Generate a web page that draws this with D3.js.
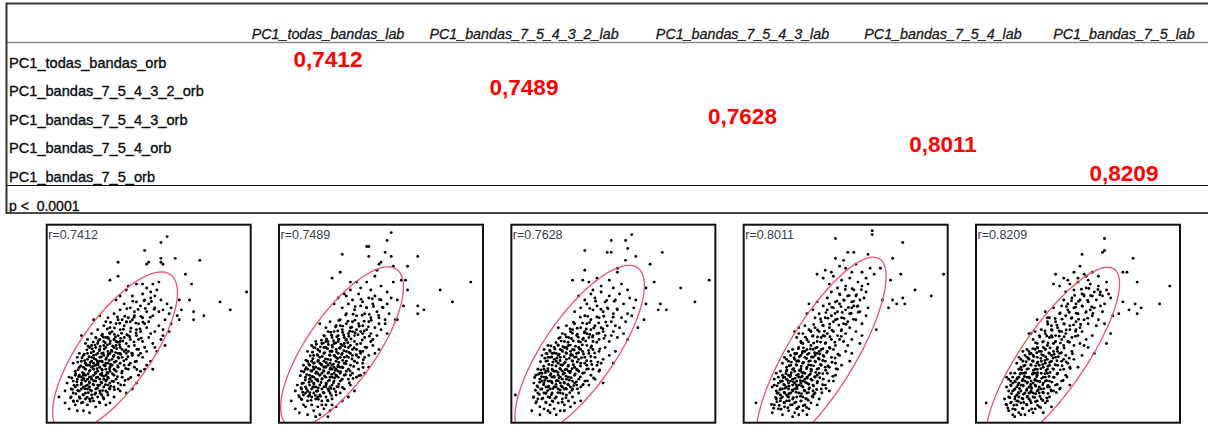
<!DOCTYPE html>
<html>
<head>
<meta charset="utf-8">
<script src="https://cdn.jsdelivr.net/npm/d3@7"></script>
<style>
  html, body { margin: 0; padding: 0; background: #fff; }
  svg { display: block; }
</style>
</head>
<body>
<svg id="chart" width="1208" height="427"></svg>
<script>
// ---- Correlation table ----
const columnLabels = ["PC1_todas_bandas_lab", "PC1_bandas_7_5_4_3_2_lab", "PC1_bandas_7_5_4_3_lab", "PC1_bandas_7_5_4_lab", "PC1_bandas_7_5_lab"];
const rowLabels = ["PC1_todas_bandas_orb", "PC1_bandas_7_5_4_3_2_orb", "PC1_bandas_7_5_4_3_orb", "PC1_bandas_7_5_4_orb", "PC1_bandas_7_5_orb"];
const correlations = [0.7412, 0.7489, 0.7628, 0.8011, 0.8209];
const pValueLabel = "p <  0.0001";

// ---- Scatter panels (both axes on a 0-100 scale) ----
const panelMeanX = [33.5, 30.9, 33.5, 38.0, 37.7];
const panelMeanY = [35.5, 38.2, 36.3, 34.4, 32.6];
const panelSdX = [12.5, 12.3, 12.95, 13.0, 13.35];
const panelSdY = [16.6, 16.55, 17.65, 20.1, 18.75];

const panel1Points = [
59,94, 56,91, 48,87, 56,83, 63,83, 75,82, 50,81, 49,80, 35,81, 56,81, 57,80, 68,75, 35,74, 31,72, 71,70, 47,70, 52,70, 55,71, 40,69, 44,70, 49,68, 54,67, 51,66, 98,66, 85,61, 70,62, 65,62, 90,57, 66,57, 72,56, 77,54, 72,52, 64,54, 65,52, 53,64, 51,63, 39,67, 42,64, 47,65, 36,64, 44,61, 48,62, 56,62, 59,60, 34,62, 38,60, 41,58, 46,59, 50,60, 53,58, 57,57, 61,58, 36,57, 43,56, 49,56, 55,56, 60,55,
26,54, 30,53, 33,55, 37,52, 40,53, 41,51, 42,52, 39,51, 43,54, 45,50, 47,53, 50,51, 52,54, 55,49, 58,52, 61,50, 28,49, 31,48, 34,50, 36,47, 38,49, 44,47, 46,46, 49,48, 53,46, 57,47, 60,46, 32,46, 25,47, 41,46, 35,52, 48,50, 23,52, 29,51, 51,45,
17,44, 20,42, 22,45, 24,43, 25,40, 27,44, 28,41, 29,38, 30,43, 31,40, 32,36, 33,42, 34,39, 35,44, 36,41, 37,37, 38,43, 39,40, 40,36, 41,42, 43,39, 44,44, 45,37, 47,41, 48,38, 50,43, 52,40, 54,36, 56,42, 58,39, 21,38, 23,36, 26,37, 19,40, 24,38, 27,35, 30,36, 33,38, 35,35, 38,36, 42,35, 46,35, 49,36, 53,38, 57,44, 26,42, 31,45, 36,38, 28,39, 34,41, 40,44, 45,42, 29,43, 22,39,
13,30, 15,33, 16,28, 17,31, 18,34, 19,27, 19,30, 20,32, 21,26, 21,29, 22,33, 22,31, 23,27, 23,34, 24,29, 24,32, 25,26, 25,30, 26,33, 26,28, 27,31, 27,25, 28,34, 28,29, 29,32, 29,27, 30,30, 30,34, 31,28, 31,26, 32,32, 32,29, 33,34, 33,27, 34,31, 35,28, 35,33, 36,30, 37,26, 37,33, 38,29, 39,32, 40,27, 41,30, 42,34, 43,28, 44,31, 46,26, 47,33, 49,29, 51,31, 52,27, 14,26, 18,25, 20,35, 16,35, 25,35, 31,35, 27,27, 23,30, 20,29, 18,28, 34,26, 36,35, 39,35, 45,34, 48,27, 30,25, 26,31, 22,28, 24,25, 29,30,
10,20, 11,23, 12,17, 13,21, 14,24, 15,19, 15,22, 16,16, 16,24, 17,20, 17,23, 18,18, 18,22, 19,15, 19,21, 19,24, 20,19, 20,17, 21,23, 21,20, 22,16, 22,22, 23,19, 23,24, 24,21, 24,17, 25,23, 25,19, 26,16, 26,22, 27,20, 27,24, 28,18, 28,22, 29,16, 29,21, 30,23, 30,19, 31,17, 32,21, 33,24, 33,18, 34,22, 35,20, 36,16, 37,23, 38,19, 40,22, 42,17, 44,20, 45,24, 14,18, 13,15, 17,17, 20,22, 23,21, 26,19, 29,24, 31,20, 21,18, 24,15, 18,24, 35,17, 39,15,
6,13, 9,16, 11,7, 18,6, 21,5, 15,11, 12,13, 14,9, 16,13, 17,10, 19,12, 20,9, 22,14, 23,11, 24,8, 25,13, 26,10, 27,14, 28,12, 30,14, 31,10, 13,11, 18,14, 21,12, 9,10, 15,6, 29,9, 33,13
];
const panel1Core = [
14.3,14.6, 17.8,14.2, 20.4,15.1, 23.6,14.4, 26.2,14.9, 29.7,15.3,
12.6,16.8, 15.2,16.3, 18.7,17.1, 21.3,16.6, 24.8,17.4, 27.4,16.2, 30.6,17.2, 33.2,16.7,
13.4,18.9, 16.9,19.3, 19.2,18.6, 22.7,19.4, 25.3,18.7, 28.8,19.2, 31.4,18.4, 36.3,19.1,
14.8,20.7, 17.3,21.4, 20.9,20.6, 23.2,21.2, 26.7,20.4, 29.3,21.6, 32.8,20.8, 38.4,21.3,
12.3,22.6, 15.7,23.3, 18.2,22.4, 21.8,23.1, 24.3,22.7, 27.9,23.4, 30.2,22.5, 34.7,23.2, 41.2,22.8,
14.2,24.7, 17.6,25.3, 20.3,24.6, 23.8,25.2, 26.3,24.4, 29.6,25.4, 32.2,24.8, 36.8,25.1,
15.4,26.8, 18.8,27.2, 21.2,26.4, 24.7,27.3, 27.2,26.6, 30.8,27.2, 33.3,26.7, 38.7,27.4, 44.2,26.9,
16.7,28.7, 19.3,29.2, 22.8,28.4, 25.2,29.3, 28.7,28.6, 31.3,29.4, 34.8,28.8, 40.3,29.2,
15.2,30.6, 18.6,31.3, 21.3,30.4, 24.8,31.2, 27.3,30.7, 30.7,31.4, 33.2,30.5, 37.8,31.2, 43.3,30.8,
17.3,32.8, 20.7,33.3, 23.2,32.4, 26.8,33.2, 29.3,32.7, 32.7,33.4, 35.3,32.6, 39.8,33.3,
18.4,34.6, 21.8,35.3, 24.3,34.4, 27.7,35.2, 30.2,34.7, 33.8,35.4, 36.3,34.5, 41.7,35.1,
19.7,36.8, 22.3,37.3, 25.8,36.4, 28.2,37.2, 31.7,36.6, 34.3,37.4, 38.8,36.7, 44.3,37.1,
20.3,38.6, 23.7,39.2, 26.2,38.5, 29.8,39.3, 32.3,38.7, 35.7,39.4, 40.2,38.6,
22.8,40.7, 25.3,41.3, 28.7,40.4, 31.2,41.2, 34.8,40.6, 37.3,41.3, 42.8,40.8,
24.2,42.8, 27.8,43.2, 30.3,42.4, 33.7,43.3, 36.2,42.6, 40.7,43.4, 46.3,42.7,
27.3,44.7, 30.8,45.3, 33.2,44.6, 36.7,45.2, 39.3,44.4, 43.8,45.3,
29.7,47.3, 33.2,47.8, 37.6,47.2, 41.3,47.7, 45.8,47.4,
31.3,50.6, 35.8,50.2, 39.2,50.8, 43.7,50.3, 47.2,50.7,
34.7,53.4, 38.3,53.8, 42.8,53.3, 46.2,53.7, 50.8,53.2,
39.3,57.6, 44.8,57.2, 48.3,57.7, 52.7,57.3,
42.2,61.3, 47.7,61.6, 51.3,61.2,
13.2,10.7, 17.7,10.3, 21.3,10.8, 25.8,10.4,
11.7,12.6, 16.3,12.3, 19.8,12.8, 22.3,12.4, 27.7,12.7
];

const panel2Points = [
55,96, 53,92, 43,89, 44,89, 31,85, 44,84, 52,86, 55,84, 68,84, 50,81, 49,80, 56,79, 63,79, 30,76, 26,73, 60,72, 62,72, 94,71, 79,67, 63,67, 85,61, 58,62, 61,59, 68,59, 71,57, 68,55, 58,52, 57,52, 48,77, 47,74, 56,71, 35,71, 38,71, 43,71, 40,68, 45,67, 50,69, 53,66, 35,67, 32,65,
29,63, 33,64, 36,62, 39,65, 41,61, 44,63, 47,64, 50,62, 53,60, 55,63, 31,58, 34,60, 37,57, 40,59, 43,58, 46,60, 48,56, 51,58, 54,55, 27,60, 38,54, 42,55, 45,53, 49,53, 52,52, 33,55,
20,50, 23,48, 25,51, 27,46, 28,49, 30,52, 31,47, 33,50, 34,45, 35,48, 36,51, 37,44, 38,47, 39,50, 40,46, 41,49, 42,43, 43,47, 44,51, 45,45, 47,48, 48,44, 50,47, 52,50, 53,45, 22,44, 24,46, 26,43, 29,44, 32,43, 46,42, 30,49, 36,46, 41,45, 49,50,
14,36, 16,39, 17,34, 18,41, 19,37, 20,33, 21,40, 22,35, 23,38, 24,32, 24,41, 25,36, 26,39, 27,34, 28,37, 29,41, 30,33, 30,38, 31,35, 32,40, 33,36, 34,33, 35,39, 36,34, 37,41, 38,37, 39,33, 40,40, 41,36, 43,38, 44,34, 46,39, 47,35, 49,37, 20,36, 22,38, 25,34, 27,40, 29,35, 32,33, 34,38, 36,37, 19,34, 26,36, 31,39, 38,34, 42,33, 45,41, 23,41, 28,33, 35,35, 17,38, 33,42, 40,35,
11,26, 12,29, 13,23, 14,31, 14,27, 15,24, 15,29, 16,21, 16,26, 17,30, 17,23, 18,28, 18,25, 19,21, 19,31, 20,27, 20,24, 21,29, 21,22, 22,26, 22,31, 23,23, 23,28, 24,25, 24,21, 25,30, 25,27, 26,23, 26,29, 27,25, 27,21, 28,31, 28,27, 29,23, 29,29, 30,25, 30,21, 31,28, 32,24, 32,30, 33,26, 34,22, 35,29, 36,25, 37,31, 38,23, 39,27, 41,30, 42,25, 44,28, 13,27, 16,31, 19,25, 21,25, 24,29, 26,27, 28,24, 31,22, 33,31, 35,24, 18,22, 20,30, 23,20, 25,23, 27,28, 29,26, 15,22, 17,27, 22,28, 30,28, 34,27, 40,24,
8,16, 9,19, 10,13, 11,17, 12,20, 12,14, 13,18, 14,11, 14,16, 15,19, 16,13, 16,17, 17,20, 17,15, 18,12, 18,18, 19,16, 20,14, 20,19, 21,11, 21,17, 22,15, 23,19, 23,13, 24,17, 25,15, 26,19, 26,12, 27,17, 28,14, 29,18, 30,15, 31,11, 32,17, 34,13, 35,19, 37,16, 15,14, 19,13, 22,18, 24,11, 13,15, 17,18, 25,18, 11,12,
6,11, 8,7, 10,5, 13,8, 14,4, 16,9, 17,6, 19,8, 20,4, 22,7, 23,9, 25,6, 26,9, 28,8, 12,9, 18,3, 21,9, 24,3
];
const panel2Core = [
11.6,15.4, 15.1,15.2, 18.3,15.9, 21.7,15.3, 24.4,16.1, 27.8,15.6,
10.8,17.7, 13.4,17.2, 16.6,18.1, 19.2,17.5, 22.9,18.3, 25.5,17.3, 28.4,18.2, 31.1,17.8,
11.3,19.8, 14.7,20.4, 17.1,19.6, 20.6,20.3, 23.2,19.7, 26.7,20.2, 29.3,19.5, 34.4,20.1,
12.9,21.6, 15.3,22.4, 18.8,21.7, 21.2,22.2, 24.7,21.5, 27.2,22.6, 30.8,21.8, 36.3,22.3,
10.4,23.7, 13.6,24.3, 16.2,23.4, 19.7,24.1, 22.3,23.6, 25.8,24.4, 28.2,23.5, 32.6,24.2, 39.2,23.8,
12.2,25.7, 15.6,26.3, 18.3,25.6, 21.8,26.2, 24.3,25.4, 27.6,26.4, 30.2,25.8, 34.8,26.1,
13.3,27.8, 16.8,28.2, 19.2,27.4, 22.6,28.3, 25.2,27.6, 28.8,28.2, 31.3,27.7, 36.6,28.4, 41.2,27.9,
14.6,29.7, 17.3,30.2, 20.8,29.4, 23.2,30.3, 26.7,29.6, 29.3,30.4, 32.8,29.8, 38.3,30.2,
13.2,31.6, 16.6,32.3, 19.3,31.4, 22.8,32.2, 25.3,31.7, 28.7,32.4, 31.2,31.5, 35.8,32.2, 41.3,31.8,
15.3,33.8, 18.7,34.3, 21.2,33.4, 24.8,34.2, 27.3,33.7, 30.7,34.4, 33.3,33.6, 37.8,34.3,
16.4,35.6, 19.8,36.3, 22.3,35.4, 25.7,36.2, 28.2,35.7, 31.8,36.4, 34.3,35.5, 39.7,36.1,
17.7,37.8, 20.3,38.3, 23.8,37.4, 26.2,38.2, 29.7,37.6, 32.3,38.4, 36.8,37.7, 42.3,38.1,
18.3,39.6, 21.7,40.2, 24.2,39.5, 27.8,40.3, 30.3,39.7, 33.7,40.4, 38.2,39.6,
20.8,41.7, 23.3,42.3, 26.7,41.4, 29.2,42.2, 32.8,41.6, 35.3,42.3, 40.8,41.8,
22.2,43.8, 25.8,44.2, 28.3,43.4, 31.7,44.3, 34.2,43.6, 38.7,44.4, 44.3,43.7,
25.3,45.7, 28.8,46.3, 31.2,45.6, 34.7,46.2, 37.3,45.4, 41.8,46.3,
27.7,48.3, 31.2,48.8, 35.6,48.2, 39.3,48.7, 43.8,48.4,
29.3,51.6, 33.8,51.2, 37.2,51.8, 41.7,51.3, 45.2,51.7,
32.7,54.4, 36.3,54.8, 40.8,54.3, 44.2,54.7, 48.8,54.2,
37.3,58.6, 42.8,58.2, 46.3,58.7, 50.7,58.3,
40.2,62.3, 45.7,62.6, 49.3,62.2,
11.2,11.7, 15.7,11.3, 19.3,11.8, 23.8,11.4,
9.7,13.6, 14.3,13.3, 17.8,13.8, 20.3,13.4, 25.7,13.7
];

const panel3Points = [
59,95, 56,92, 49,92, 47,86, 49,86, 36,87, 57,88, 61,84, 74,86, 56,82, 68,80, 36,77, 30,72, 35,72, 52,78, 52,76, 97,72, 83,68, 66,68, 70,71, 90,61, 76,57, 73,60, 72,57, 66,60, 65,52, 62,48, 61,62, 38,71, 42,73, 48,72, 44,69, 50,68, 54,70, 57,67, 40,67,
33,64, 36,62, 39,65, 41,63, 44,66, 46,61, 48,64, 51,62, 53,65, 55,60, 58,63, 60,58, 34,58, 37,60, 40,57, 42,59, 45,56, 47,58, 50,55, 52,57, 54,53, 57,55, 31,56, 36,54, 39,52, 43,53, 49,51, 56,51, 59,54,
23,48, 25,45, 27,49, 28,43, 30,47, 31,50, 32,44, 34,48, 35,42, 36,46, 37,50, 38,43, 39,47, 40,41, 41,49, 42,45, 43,42, 44,48, 46,44, 47,49, 48,41, 50,46, 52,43, 53,48, 55,45, 57,42, 26,41, 29,46, 33,41, 37,45, 45,46, 49,44, 24,43, 40,44, 51,49,
15,34, 16,37, 17,31, 18,39, 19,33, 19,36, 20,29, 21,38, 21,32, 22,35, 23,30, 23,39, 24,33, 25,36, 25,29, 26,38, 27,32, 27,35, 28,29, 28,39, 29,34, 30,31, 30,37, 31,28, 32,35, 33,32, 33,38, 34,30, 35,36, 36,33, 37,29, 37,39, 38,35, 39,31, 40,37, 41,33, 42,29, 43,36, 45,32, 46,38, 48,34, 50,30, 51,36, 18,33, 20,35, 22,31, 24,37, 26,30, 29,36, 31,33, 34,37, 36,30, 17,35, 39,38, 44,30, 23,34, 30,34, 27,38,
11,20, 12,24, 13,18, 13,27, 14,22, 15,17, 15,25, 16,20, 16,27, 17,23, 17,18, 18,26, 18,21, 19,17, 19,24, 20,27, 20,20, 21,23, 21,18, 22,26, 22,21, 23,17, 23,24, 24,27, 24,20, 25,22, 25,18, 26,25, 26,20, 27,27, 27,17, 28,23, 28,19, 29,26, 30,21, 30,17, 31,24, 32,19, 32,27, 33,22, 34,18, 35,25, 36,21, 37,27, 38,19, 39,24, 41,22, 43,26, 45,20, 14,25, 16,23, 19,21, 21,26, 23,21, 25,26, 27,22, 29,18, 31,20, 33,26, 18,18, 20,23, 22,18, 24,23, 26,17, 28,26, 35,19, 40,27, 15,21, 17,26,
2,14, 10,6, 19,5, 11,13, 12,10, 13,15, 14,8, 15,12, 16,15, 16,7, 17,10, 18,13, 19,9, 20,15, 20,11, 21,7, 22,13, 23,10, 24,15, 24,6, 25,12, 26,9, 27,14, 28,11, 29,8, 30,13, 31,10, 33,15, 34,11, 14,4, 22,4, 17,15, 26,6, 18,6, 13,12
];
const panel3Core = [
13.7,14.3, 16.9,14.8, 19.6,14.1, 22.8,15.2, 25.3,14.6, 28.6,15.1,
11.8,16.4, 14.4,16.9, 17.8,16.2, 20.3,17.2, 23.9,16.5, 26.6,17.3, 29.7,16.4, 32.4,17.1,
12.6,18.6, 15.8,19.2, 18.3,18.4, 21.9,19.3, 24.4,18.5, 27.7,19.4, 30.6,18.7, 35.2,19.3,
13.9,20.4, 16.4,21.3, 19.8,20.7, 22.3,21.4, 25.8,20.3, 28.4,21.5, 31.9,20.6, 37.3,21.1,
11.4,22.8, 14.8,23.2, 17.3,22.5, 20.9,23.3, 23.4,22.6, 26.8,23.5, 29.3,22.7, 33.8,23.1, 40.3,22.6,
13.3,24.5, 16.7,25.2, 19.4,24.7, 22.9,25.3, 25.4,24.5, 28.7,25.2, 31.3,24.6, 35.9,25.3,
14.5,26.6, 17.9,27.3, 20.3,26.5, 23.8,27.4, 26.3,26.7, 29.8,27.3, 32.4,26.5, 37.8,27.2, 43.3,26.7,
15.8,28.5, 18.4,29.4, 21.9,28.6, 24.3,29.2, 27.8,28.5, 30.4,29.3, 33.9,28.6, 39.4,29.4,
14.3,30.8, 17.7,31.2, 20.4,30.6, 23.9,31.4, 26.4,30.5, 29.8,31.3, 32.3,30.7, 36.9,31.3, 42.4,30.6,
16.4,32.6, 19.8,33.2, 22.3,32.6, 25.9,33.3, 28.4,32.5, 31.8,33.2, 34.4,32.8, 38.9,33.4,
17.5,34.8, 20.9,35.2, 23.4,34.6, 26.8,35.4, 29.3,34.5, 32.9,35.3, 35.4,34.7, 40.8,35.2,
18.8,36.6, 21.4,37.2, 24.9,36.5, 27.3,37.3, 30.8,36.7, 33.4,37.2, 37.9,36.5, 43.4,37.3,
19.4,38.8, 22.8,39.3, 25.3,38.4, 28.9,39.2, 31.4,38.6, 34.8,39.3, 39.3,38.8,
21.9,40.5, 24.4,41.2, 27.8,40.6, 30.3,41.4, 33.9,40.7, 36.4,41.2, 41.9,40.6,
23.3,42.6, 26.9,43.3, 29.4,42.5, 32.8,43.2, 35.3,42.7, 39.8,43.3, 45.4,42.6,
26.4,44.5, 29.9,45.2, 32.3,44.7, 35.8,45.4, 38.4,44.6, 42.9,45.2,
28.8,47.4, 32.3,47.7, 36.7,47.3, 40.4,47.8, 44.9,47.3,
30.4,50.7, 34.9,50.3, 38.3,50.6, 42.8,50.4, 46.3,50.8,
33.8,53.3, 37.4,53.7, 41.9,53.4, 45.3,53.8, 49.9,53.3,
38.4,57.7, 43.9,57.3, 47.4,57.6, 51.8,57.4,
41.3,61.4, 46.8,61.7, 50.4,61.3,
12.3,10.6, 16.8,10.4, 20.4,10.7, 24.9,10.3,
10.8,12.7, 15.4,12.4, 18.9,12.7, 21.4,12.3, 26.8,12.6
];

const panel4Points = [
63,97, 63,95, 45,93, 78,91, 51,86, 54,86, 45,83, 61,85, 73,83, 49,82, 36,75, 40,77, 43,76, 62,78, 67,78, 77,75, 98,75, 72,72, 84,67, 92,64, 78,63, 75,60, 79,60, 71,58, 68,62, 73,62, 65,47, 50,78, 55,80, 58,76, 47,79, 53,76, 60,73, 64,75,
39,73, 42,70, 44,74, 46,68, 48,72, 50,69, 52,73, 54,67, 56,71, 58,69, 60,66, 47,65, 51,64, 55,64, 43,66, 41,63, 49,62, 53,61, 57,62, 45,61, 59,63, 61,70,
32,60, 34,57, 36,61, 37,55, 39,59, 40,53, 41,57, 42,60, 43,54, 44,58, 45,52, 46,56, 47,60, 48,53, 50,57, 51,51, 52,55, 54,59, 55,52, 57,56, 58,50, 60,54, 38,51, 35,53, 49,50, 53,58, 44,51, 31,55, 56,59, 61,58,
25,46, 26,43, 27,48, 28,41, 29,45, 30,49, 31,42, 32,47, 33,39, 34,44, 35,48, 36,41, 37,46, 38,43, 39,49, 40,40, 41,45, 42,48, 43,42, 44,46, 45,39, 46,44, 48,47, 49,41, 50,45, 52,48, 53,42, 55,46, 57,40, 58,44, 29,40, 33,46, 36,38, 39,44, 42,38, 47,42, 51,39, 27,45,
19,30, 20,33, 21,28, 22,36, 22,31, 23,34, 24,27, 24,37, 25,32, 26,29, 26,35, 27,38, 27,31, 28,27, 28,34, 29,36, 29,30, 30,33, 31,28, 31,37, 32,31, 32,35, 33,29, 34,33, 34,37, 35,31, 36,27, 36,35, 37,32, 38,37, 38,29, 39,34, 40,31, 41,36, 42,28, 43,33, 44,37, 45,30, 47,34, 48,29, 50,36, 52,31, 53,35, 23,29, 25,35, 30,36, 33,27, 35,34, 40,28, 21,32, 26,31, 37,36, 46,27,
14,18, 15,22, 16,16, 16,25, 17,20, 17,23, 18,17, 18,26, 19,21, 19,24, 20,15, 20,19, 21,22, 21,26, 22,17, 22,20, 23,24, 23,15, 24,19, 24,22, 25,26, 25,17, 26,21, 26,24, 27,15, 27,19, 28,23, 28,26, 29,18, 29,21, 30,25, 30,16, 31,20, 31,23, 32,17, 33,22, 33,26, 34,19, 35,15, 35,23, 36,20, 37,25, 38,17, 39,22, 40,19, 41,25, 42,16, 44,21, 45,24, 18,21, 20,23, 22,24, 24,16, 26,18, 28,20, 30,22, 32,24, 25,20, 27,23, 21,18, 19,17, 23,21, 29,25, 34,16, 36,24, 31,15, 17,15, 15,19,
6,10, 14,5, 15,9, 16,12, 17,7, 18,11, 19,4, 19,13, 20,8, 21,11, 22,6, 22,13, 23,9, 24,12, 25,5, 25,10, 26,13, 27,8, 28,11, 29,6, 29,13, 30,9, 31,12, 32,7, 33,10, 34,13, 36,9, 37,12, 18,14, 24,3, 27,4, 20,10, 26,7, 21,14, 31,4
];
const panel4Core = [
16.3,10.6, 19.8,10.2, 22.4,11.1, 25.6,10.4, 28.2,10.9, 31.7,11.3,
15.6,12.8, 18.2,12.3, 21.7,13.1, 24.3,12.6, 27.8,13.4, 30.4,12.2, 33.6,13.2,
16.4,14.9, 19.9,15.3, 22.2,14.6, 25.7,15.4, 28.3,14.7, 31.8,15.2, 34.4,14.4, 38.3,15.1,
17.8,16.7, 20.3,17.4, 23.9,16.6, 26.2,17.2, 29.7,16.4, 32.3,17.6, 35.8,16.8, 40.4,17.3,
16.3,18.6, 19.7,19.3, 22.2,18.4, 25.8,19.1, 28.3,18.7, 31.9,19.4, 34.2,18.5, 38.7,19.2,
18.2,20.7, 21.6,21.3, 24.3,20.6, 27.8,21.2, 30.3,20.4, 33.6,21.4, 36.2,20.8, 41.8,21.1,
19.4,22.8, 22.8,23.2, 25.2,22.4, 28.7,23.3, 31.2,22.6, 34.8,23.2, 37.3,22.7, 43.7,23.4,
20.7,24.7, 23.3,25.2, 26.8,24.4, 29.2,25.3, 32.7,24.6, 35.3,25.4, 38.8,24.8,
21.2,26.6, 24.6,27.3, 27.3,26.4, 30.8,27.2, 33.3,26.7, 36.7,27.4, 40.2,26.5, 45.3,27.2,
22.3,28.8, 25.7,29.3, 28.2,28.4, 31.8,29.2, 34.3,28.7, 37.7,29.4, 41.3,28.6,
23.4,30.6, 26.8,31.3, 29.3,30.4, 32.7,31.2, 35.2,30.7, 38.8,31.4, 43.3,30.5,
24.7,32.8, 27.3,33.3, 30.8,32.4, 33.2,33.2, 36.7,32.6, 39.3,33.4, 44.8,32.7,
25.3,34.6, 28.7,35.2, 31.2,34.5, 34.8,35.3, 37.3,34.7, 40.7,35.4, 46.2,34.6,
26.8,37.3, 29.3,37.8, 32.7,37.2, 35.2,37.7, 38.8,37.4, 42.3,37.6,
28.2,40.3, 31.8,40.8, 34.3,40.2, 37.7,40.7, 40.2,40.4, 44.7,40.6,
30.3,43.2, 33.8,43.7, 36.2,43.3, 39.7,43.8, 42.3,43.4, 47.8,43.6,
32.7,46.4, 36.2,46.8, 39.6,46.2, 43.3,46.7, 47.8,46.4,
34.3,49.6, 38.8,49.2, 42.2,49.8, 46.7,49.3, 50.2,49.7,
37.7,52.4, 41.3,52.8, 45.8,52.3, 49.2,52.7, 53.8,52.2,
40.3,55.6, 44.8,55.2, 48.3,55.7, 52.7,55.3, 56.2,55.8,
43.2,58.3, 47.7,58.6, 51.3,58.2, 55.7,58.7,
45.7,61.4, 49.3,61.8, 53.8,61.3,
47.2,64.6, 51.7,64.2, 55.3,64.7,
49.8,67.3, 53.2,67.7, 57.7,67.2,
14.7,7.3, 18.3,6.8, 21.7,7.6, 26.3,7.2, 30.8,7.7,
13.6,9.2, 17.4,8.7, 23.8,9.1, 29.2,8.6
];

const panel5Points = [
63,93, 63,87, 62,86, 52,85, 77,83, 51,79, 39,75, 48,76, 53,75, 54,74, 72,76, 74,76, 79,71, 43,73, 45,72, 38,70, 95,69, 64,71, 90,60, 81,58, 78,60, 75,57, 79,55, 72,61, 70,55, 67,54, 66,45, 64,40, 58,35, 30,52, 35,53, 26,45, 57,76, 60,74, 50,73, 55,72,
41,69, 44,66, 46,70, 48,67, 50,71, 52,65, 54,68, 56,70, 58,66, 60,69, 62,64, 64,67, 66,63, 47,63, 51,62, 55,61, 59,62, 63,60, 43,62, 57,64, 61,66, 45,60, 53,64, 49,60, 65,65,
34,56, 36,53, 38,58, 39,51, 41,55, 42,59, 43,50, 44,54, 45,57, 46,49, 47,53, 48,58, 49,51, 50,55, 52,59, 53,52, 54,56, 55,50, 57,54, 58,58, 60,52, 62,56, 63,50, 37,49, 40,48, 51,48, 56,57, 59,49, 35,51, 61,59,
27,45, 28,42, 29,46, 30,40, 31,44, 32,47, 33,41, 34,45, 35,39, 36,43, 37,47, 38,40, 39,44, 40,38, 41,46, 42,42, 43,39, 44,45, 45,41, 46,47, 47,43, 48,39, 50,44, 51,40, 52,46, 54,42, 55,38, 57,44, 30,38, 33,38, 37,44, 42,46, 49,47, 53,39, 39,41,
20,30, 21,33, 22,28, 23,36, 23,31, 24,34, 25,27, 25,37, 26,32, 27,29, 27,35, 28,31, 29,27, 29,37, 30,33, 31,29, 31,36, 32,31, 33,34, 33,28, 34,37, 35,32, 36,29, 36,35, 37,31, 38,27, 38,36, 39,33, 40,29, 41,35, 42,31, 43,27, 44,34, 45,30, 47,36, 48,32, 50,28, 52,34, 24,29, 26,36, 28,34, 30,27, 32,36, 34,30, 35,27, 37,34, 40,36, 22,32, 25,33, 43,32, 46,28, 30,30, 21,27,
15,18, 16,22, 16,16, 17,25, 17,19, 18,23, 18,16, 19,21, 19,25, 20,18, 20,14, 21,23, 21,20, 22,16, 22,25, 23,19, 23,22, 24,15, 24,25, 25,20, 25,17, 26,23, 26,15, 27,21, 27,18, 28,25, 28,15, 29,22, 29,19, 30,24, 30,16, 31,21, 31,18, 32,25, 33,20, 33,15, 34,23, 35,18, 35,25, 36,21, 37,16, 38,23, 39,19, 40,25, 41,17, 42,21, 44,24, 46,19, 19,17, 21,15, 23,25, 25,23, 27,16, 29,25, 31,15, 33,23, 18,20, 20,22, 22,19, 24,21, 26,18, 28,20, 30,21, 32,17, 34,21, 36,18, 38,16, 17,21, 15,23,
5,10, 16,6, 19,3, 14,12, 15,9, 16,13, 17,10, 18,7, 19,12, 20,9, 21,5, 21,13, 22,10, 23,7, 23,12, 24,4, 25,9, 26,12, 26,6, 27,10, 28,13, 29,7, 30,11, 31,8, 32,12, 33,5, 34,10, 36,13, 37,8, 18,4, 25,13, 28,5, 20,11, 22,4, 35,11
];
const panel5Core = [
17.3,10.4, 20.7,10.8, 23.4,10.2, 26.6,11.1, 29.2,10.6, 32.8,11.2,
16.6,12.6, 19.2,13.1, 22.6,12.4, 25.3,13.3, 28.7,12.7, 31.4,13.2, 34.7,12.5,
17.4,14.7, 20.8,15.2, 23.3,14.4, 26.7,15.3, 29.2,14.6, 32.8,15.4, 35.3,14.8, 39.4,15.2,
18.7,16.6, 21.3,17.3, 24.8,16.4, 27.2,17.4, 30.6,16.7, 33.3,17.2, 36.7,16.5, 41.3,17.4,
17.2,18.7, 20.6,19.2, 23.2,18.5, 26.8,19.3, 29.3,18.4, 32.7,19.2, 35.3,18.8, 39.8,19.3,
19.3,20.6, 22.7,21.2, 25.2,20.4, 28.8,21.4, 31.3,20.7, 34.7,21.2, 37.2,20.5, 42.7,21.3,
20.4,22.7, 23.7,23.3, 26.3,22.6, 29.8,23.2, 32.2,22.4, 35.8,23.3, 38.3,22.8, 44.6,23.1,
21.6,24.6, 24.3,25.3, 27.7,24.5, 30.2,25.2, 33.8,24.7, 36.3,25.4, 39.7,24.6,
22.3,26.8, 25.7,27.2, 28.2,26.5, 31.8,27.3, 34.3,26.4, 37.7,27.2, 41.3,26.7, 46.2,27.4,
23.4,28.6, 26.8,29.3, 29.2,28.7, 32.7,29.4, 35.3,28.5, 38.8,29.3, 42.2,28.8,
24.6,30.8, 27.7,31.2, 30.3,30.6, 33.8,31.4, 36.2,30.5, 39.7,31.3, 44.2,30.7,
25.7,32.6, 28.3,33.4, 31.8,32.5, 34.2,33.2, 37.8,32.7, 40.3,33.3, 45.7,32.6,
26.3,34.7, 29.8,35.3, 32.2,34.4, 35.7,35.2, 38.3,34.6, 41.8,35.3, 47.3,34.8,
27.8,37.4, 30.3,37.7, 33.8,37.3, 36.3,37.8, 39.7,37.2, 43.2,37.7,
29.2,40.4, 32.7,40.7, 35.3,40.3, 38.8,40.8, 41.3,40.2, 45.8,40.6,
31.3,43.3, 34.7,43.8, 37.3,43.2, 40.8,43.7, 43.2,43.4, 48.7,43.7,
33.8,46.3, 37.3,46.7, 40.7,46.4, 44.2,46.8, 48.8,46.2,
35.2,49.7, 39.7,49.3, 43.3,49.8, 47.8,49.4, 51.3,49.6,
38.8,52.6, 42.2,52.3, 46.7,52.7, 50.3,52.2, 54.7,52.8,
41.2,55.4, 45.7,55.8, 49.2,55.3, 53.8,55.6, 57.3,55.2,
44.3,58.7, 48.8,58.3, 52.2,58.8, 56.7,58.4,
46.8,61.6, 50.2,61.2, 54.7,61.8,
48.3,64.3, 52.8,64.7, 56.2,64.2, 60.7,64.6,
51.7,67.4, 55.3,67.8, 59.8,67.3,
15.6,7.4, 19.2,6.7, 22.8,7.3, 27.3,6.9, 31.7,7.6,
14.7,9.3, 18.6,8.8, 24.7,9.2, 30.2,8.7
];

const panelPoints = [
  panel1Points.concat(panel1Core),
  panel2Points.concat(panel2Core),
  panel3Points.concat(panel3Core),
  panel4Points.concat(panel4Core),
  panel5Points.concat(panel5Core)
];

// ---- Drawing ----
const FONT = '"Liberation Sans", Arial, Helvetica, sans-serif';
const svg = d3.select("#chart").style("font-family", FONT);

const commaLocale = d3.formatLocale({decimal: ",", thousands: ".", grouping: [3], currency: ["", ""]});
const fmtComma = commaLocale.format(".4f");
const fmtDot = d3.format(".4f");

// table geometry
const tbl = {left: 6.5, right: 1208, top: 3.5, headRule: 42.5, bodyRule: 185.5, bottom: 213};
const colX = d3.scaleOrdinal().domain(columnLabels).range([328, 524, 742.5, 943, 1124]);
const rowY = d3.scalePoint().domain(rowLabels).range([67.7, 182]);

const table = svg.append("g");

table.selectAll("text.col").data(columnLabels).join("text")
  .attr("class", "col")
  .attr("x", d => colX(d)).attr("y", 38.5)
  .attr("text-anchor", "middle")
  .attr("font-style", "italic")
  .attr("font-size", 14.3)
  .attr("fill", "#1a1a1a")
  .attr("stroke", "#1a1a1a").attr("stroke-width", 0.3)
  .text(d => d);

table.selectAll("text.row").data(rowLabels).join("text")
  .attr("class", "row")
  .attr("x", 9).attr("y", d => rowY(d))
  .attr("font-size", 14.6)
  .attr("fill", "#0d0d0d")
  .attr("stroke", "#0d0d0d").attr("stroke-width", 0.35)
  .text(d => d);

table.selectAll("text.val").data(correlations).join("text")
  .attr("class", "val")
  .attr("x", (d, i) => colX(columnLabels[i]))
  .attr("y", (d, i) => rowY(rowLabels[i]) - 1)
  .attr("text-anchor", "middle")
  .attr("font-weight", "bold")
  .attr("font-size", 22.5)
  .attr("fill", "#ff0000")
  .text(d => fmtComma(d));

table.append("text")
  .attr("x", 9).attr("y", 210.5)
  .attr("font-size", 14)
  .attr("fill", "#0d0d0d")
  .attr("stroke", "#0d0d0d").attr("stroke-width", 0.35)
  .style("white-space", "pre")
  .text(pValueLabel);

// rules
const rules = [
  {y: tbl.top, w: 2.2, c: "#3a3a3a"},
  {y: tbl.headRule, w: 1.6, c: "#8a8a8a"},
  {y: tbl.bodyRule, w: 1.2, c: "#111"},
  {y: tbl.bottom, w: 2.2, c: "#4a4a4a"}
];
table.selectAll("line.rule").data(rules).join("line")
  .attr("x1", tbl.left).attr("x2", tbl.right)
  .attr("y1", d => d.y).attr("y2", d => d.y)
  .attr("stroke", d => d.c).attr("stroke-width", d => d.w);
table.append("line")
  .attr("x1", tbl.left).attr("x2", tbl.left)
  .attr("y1", tbl.top - 1).attr("y2", tbl.bottom + 1)
  .attr("stroke", "#333").attr("stroke-width", 2);

// scatter panels
const panelW = 204, panelH = 198, panelTop = 224.7;
const panelLeft = d3.scalePoint().domain(d3.range(correlations.length)).range([46.7, 976]);
const chi95 = Math.sqrt(5.991);

correlations.forEach((r, i) => {
  const x0 = panelLeft(i);
  const x = d3.scaleLinear().domain([0, 100]).range([x0, x0 + panelW]);
  const y = d3.scaleLinear().domain([0, 100]).range([panelTop + panelH, panelTop]);
  const g = svg.append("g");

  const clipId = "clip" + i;
  g.append("clipPath").attr("id", clipId)
    .append("rect").attr("x", x0).attr("y", panelTop).attr("width", panelW).attr("height", panelH);

  const flat = panelPoints[i];
  const pts = d3.range(0, flat.length, 2).map(k => [flat[k], flat[k + 1]]);

  const inner = g.append("g").attr("clip-path", `url(#${clipId})`);
  inner.selectAll("circle").data(pts).join("circle")
    .attr("cx", d => x(d[0])).attr("cy", d => y(d[1]))
    .attr("r", 1.45).attr("fill", "#000");

  // 95% confidence ellipse from the panel means, SDs and r
  const mx = panelMeanX[i], my = panelMeanY[i];
  const ax = chi95 * panelSdX[i], ay = chi95 * panelSdY[i];
  const s = Math.sqrt(1 - r * r);
  const ts = d3.range(0, 2 * Math.PI + 0.001, Math.PI / 90);
  const ring = ts.map(t => [mx + ax * Math.cos(t), my + ay * (r * Math.cos(t) + s * Math.sin(t))]);
  inner.append("path")
    .attr("d", d3.line().x(d => x(d[0])).y(d => y(d[1]))(ring))
    .attr("fill", "none").attr("stroke", "#f24d6b").attr("stroke-width", 1.3);

  g.append("rect")
    .attr("x", x0).attr("y", panelTop).attr("width", panelW).attr("height", panelH)
    .attr("fill", "none").attr("stroke", "#111").attr("stroke-width", 2);

  g.append("text")
    .attr("x", x0 + 1.5).attr("y", panelTop + 14.5)
    .attr("font-size", 12.5)
    .attr("fill", "#37404c")
    .text("r=" + fmtDot(r));
});
</script>
</body>
</html>
